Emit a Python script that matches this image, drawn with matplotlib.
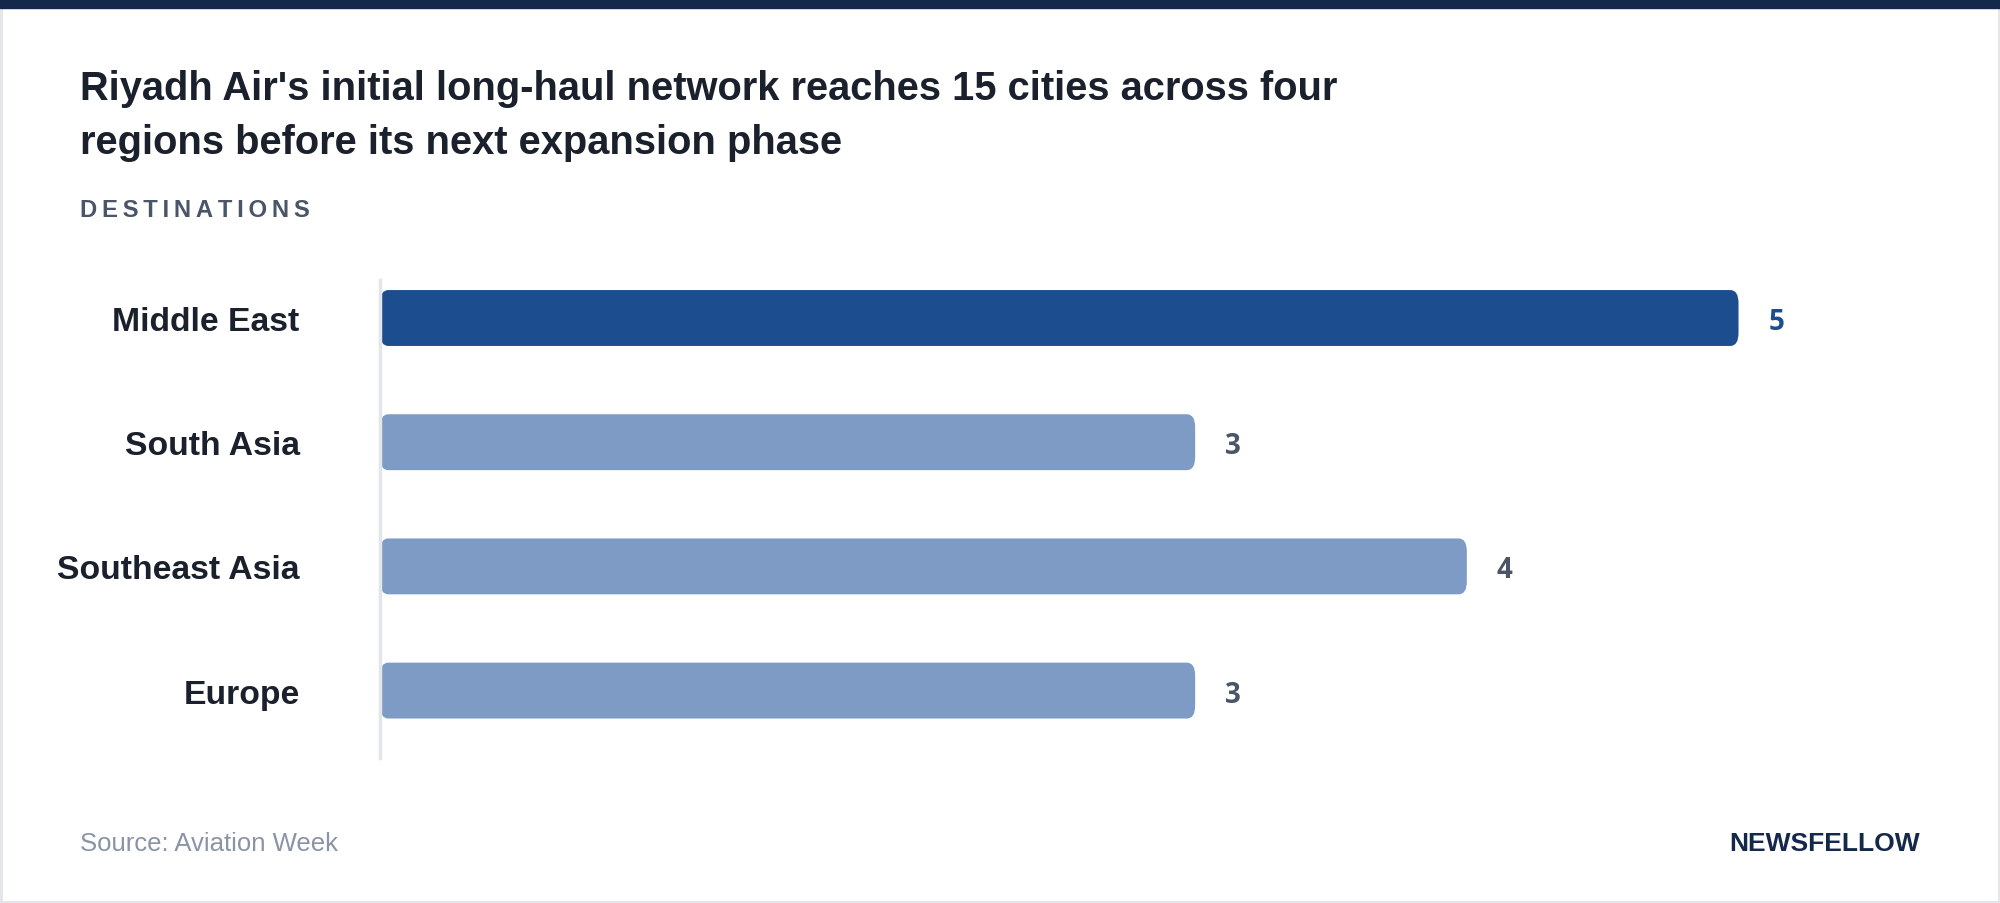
import matplotlib
matplotlib.use("Agg")
import matplotlib.pyplot as plt
from matplotlib.patches import Rectangle, FancyBboxPatch

categories = ["Middle East", "South Asia", "Southeast Asia", "Europe"]
values = [5, 3, 4, 3]
colors = ["#1b4d8f", "#7d9bc4", "#7d9bc4", "#7d9bc4"]
label_colors = ["#1b4d8f", "#4a5568", "#4a5568", "#4a5568"]

W, H = 1568, 709
fig = plt.figure(figsize=(20, 9.04), dpi=100)
fig.patch.set_facecolor("white")
fig.add_artist(Rectangle((0, 1 - 7 / H), 1, 7 / H, transform=fig.transFigure, color="#14284b", zorder=5))
fig.add_artist(Rectangle((0.0005, 0.001), 0.999, 0.997, transform=fig.transFigure, fill=False, edgecolor="#e2e5ea", lw=2))

font = "Liberation Sans"
fig.text(63 / W, 1 - 70 / H, "Riyadh Air's initial long-haul network reaches 15 cities across four",
         fontsize=28.7, fontweight="bold", family=font, color="#1a202c", va="center")
fig.text(63 / W, 1 - 112 / H, "regions before its next expansion phase",
         fontsize=28.7, fontweight="bold", family=font, color="#1a202c", va="center")
fig.text(63 / W, 1 - 165 / H, "\u2009".join("DESTINATIONS"), fontsize=17.2, fontweight="bold",
         family=font, color="#4a5568", va="center")
fig.text(63 / W, 1 - 662 / H, "Source: Aviation Week", fontsize=18.5, family=font, color="#8a94a6", va="center")
fig.text(1505 / W, 1 - 662 / H, "NEWSFELLOW", fontsize=19, fontweight="bold", family=font,
         color="#14284b", va="center", ha="right")

ax = fig.add_axes([298 / W, 1 - 595 / H, 1065 / W, 375 / H])
ax.set_xlim(0, 5)
ax.set_ylim(3.54, -0.31)
for i, (v, c) in enumerate(zip(values, colors)):
    ax.add_patch(FancyBboxPatch((0, i - 0.225), v, 0.45, boxstyle="round,pad=0,rounding_size=0.03",
                                mutation_aspect=3.5, facecolor=c, edgecolor="none"))
    ax.text(v + 0.14, i, str(v), fontsize=20, fontweight="bold", family="Open Sans",
            color=label_colors[i], va="center_baseline", ha="center")
ax.set_yticks(range(len(categories)))
ax.set_yticklabels(categories, fontsize=24.3, fontweight="bold", family=font, color="#1a202c")
ax.tick_params(axis="y", length=0, pad=58)
ax.set_xticks([])
for s in ["top", "right", "bottom"]:
    ax.spines[s].set_visible(False)
ax.spines["left"].set_color("#e2e5ea")
ax.spines["left"].set_linewidth(2.5)
fig.savefig("out.png", dpi=100)
